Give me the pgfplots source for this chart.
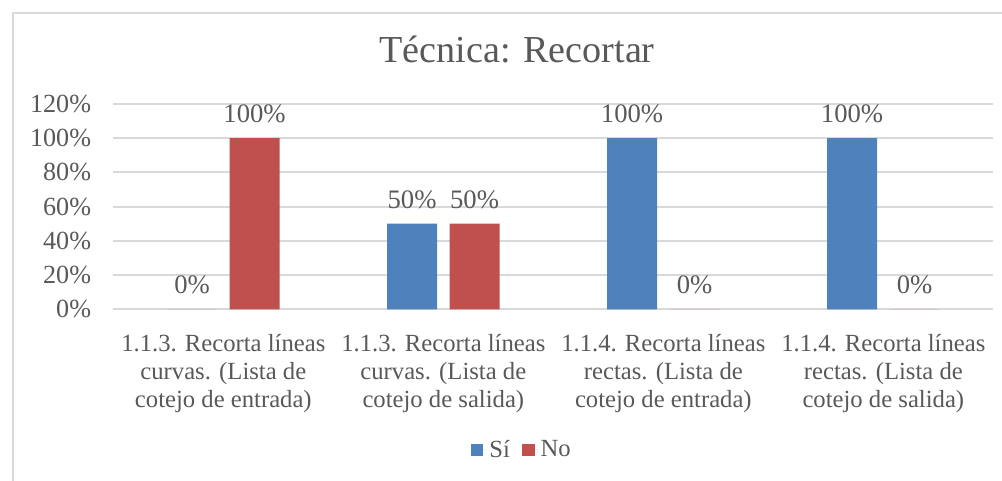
\documentclass[border=0pt]{standalone}
\usepackage{fontspec}
\setmainfont{Liberation Serif}
\usepackage{pgfplots}
\pgfplotsset{compat=1.18}
\definecolor{sblue}{HTML}{4F81BD}
\definecolor{sred}{HTML}{C0504D}
\definecolor{txt}{HTML}{595959}
\definecolor{grd}{HTML}{D9D9D9}
\begin{document}
\begin{tikzpicture}
\path[use as bounding box, fill=white] (0,0) rectangle (751.5pt,360.75pt);
\draw[grd, line width=1.2pt] (9.75pt,0pt) -- (9.75pt,351pt) -- (751.5pt,351pt);
\node[anchor=base, font=\fontsize{28.6}{33}\selectfont, text=txt, inner sep=0pt] at (387.75pt,313.5pt) {Técnica: Recortar};
\begin{axis}[
  at={(85pt,128.8pt)}, anchor=south west,
  scale only axis, width=660pt, height=154pt,
  xmin=-0.5, xmax=3.5, ymin=0, ymax=120,
  ybar=9.4pt, bar width=37.5pt,
  xtick={0,1,2,3},
  xticklabels={{1.1.3. Recorta líneas\\curvas. (Lista de\\cotejo de entrada)},
               {1.1.3. Recorta líneas\\curvas. (Lista de\\cotejo de salida)},
               {1.1.4. Recorta líneas\\rectas. (Lista de\\cotejo de entrada)},
               {1.1.4. Recorta líneas\\rectas. (Lista de\\cotejo de salida)}},
  ytick={0,20,...,120},
  ymajorgrids, grid style={grd, line width=1.4pt},
  axis line style={draw=none}, major tick style={draw=none},
  tick label style={text=txt},
  xticklabel style={font=\fontsize{18.5}{21}\selectfont, align=center, anchor=north, inner sep=0pt, yshift=-14pt},
  yticklabel={\pgfmathprintnumber{\tick}\%},
  yticklabel style={font=\fontsize{19.6}{22}\selectfont, inner sep=0pt, xshift=-16.5pt},
  /pgf/number format/assume math mode=true,
  nodes near coords={\pgfmathprintnumber{\pgfplotspointmeta}\%},
  every node near coord/.append style={font=\fontsize{20}{22}\selectfont, text=txt, anchor=base, inner sep=0pt, yshift=11.6pt},
  legend columns=2,
  legend style={draw=none, fill=none, at={(0.4644,-0.685)}, anchor=center,
    font=\fontsize{18.5}{21}\selectfont, text=txt,
    /tikz/every even column/.append style={column sep=7pt}},
]
\addplot[fill=sblue, draw=none, legend image code/.code={\path (0pt,0pt) -- (12pt,0pt);\fill[sblue] (0pt,-4.8pt) rectangle (9.5pt,4.8pt);}] coordinates {(0,0) (1,50) (2,100) (3,100)};
\addplot[fill=sred, draw=none, legend image code/.code={\path (0pt,0pt) -- (12pt,0pt);\fill[sred] (0pt,-4.8pt) rectangle (9.5pt,4.8pt);}] coordinates {(0,100) (1,50) (2,0) (3,0)};
\legend{Sí, No}
\end{axis}
\end{tikzpicture}
\end{document}
